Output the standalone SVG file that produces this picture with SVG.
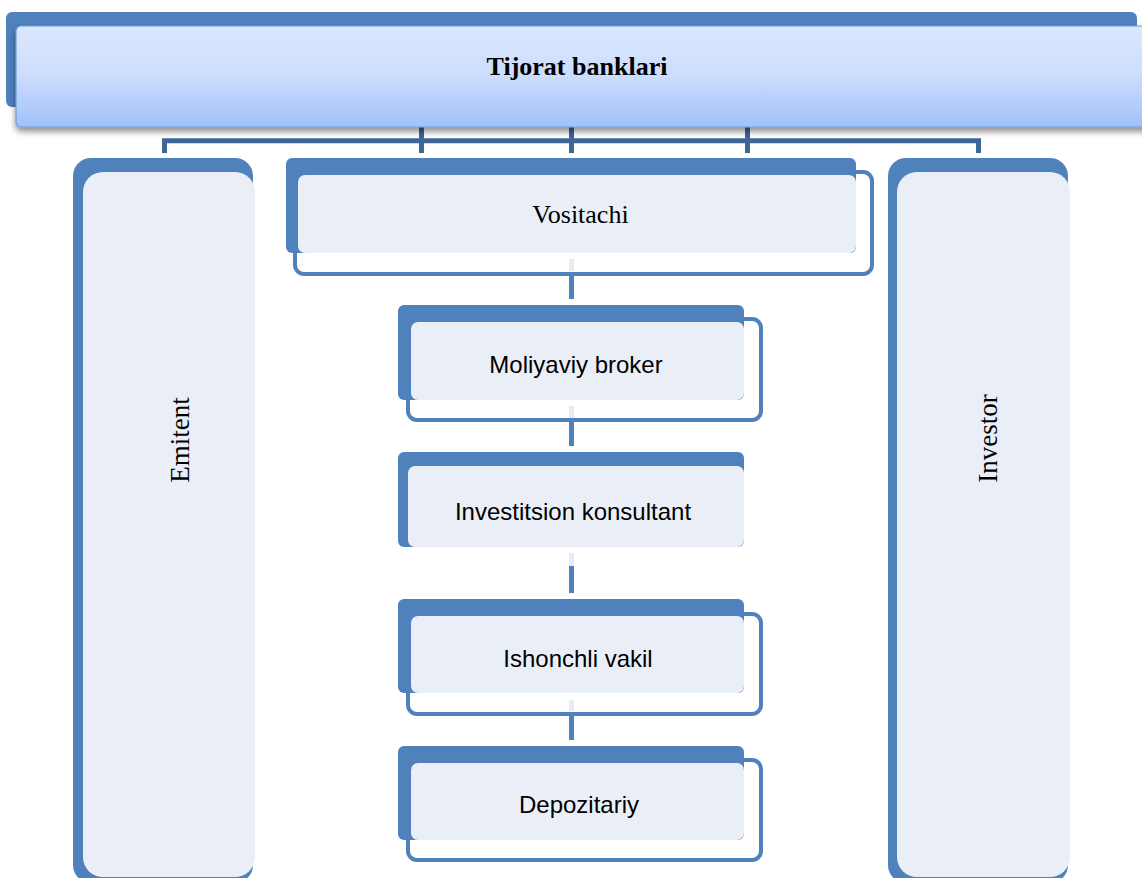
<svg xmlns="http://www.w3.org/2000/svg" width="1142" height="878" viewBox="0 0 1142 878">
  <style>
    .blue { fill: #4f81bd; }
    .light { fill: #eaeff7; }
    .outline { fill: #ffffff; stroke: #4f81bd; stroke-width: 4; }
    .conn { stroke: #3d6796; stroke-width: 5; fill: none; }
    .vconn { stroke: #4f81bd; stroke-width: 5; }
    .vconnl { stroke: #e6ebf4; stroke-width: 5; }
    .serif { font-family: "Liberation Serif", "Times New Roman", serif; fill: #000; }
    .sans { font-family: "Liberation Sans", Arial, sans-serif; font-size: 24px; fill: #000; }
  </style>
  <defs>
    <linearGradient id="hdr" x1="0" y1="0" x2="0" y2="1">
      <stop offset="0" stop-color="#dde8fe"/>
      <stop offset="0.5" stop-color="#cbdcfd"/>
      <stop offset="1" stop-color="#a2c1fa"/>
    </linearGradient>
    <filter id="shadow" x="-5%" y="-20%" width="110%" height="150%">
      <feDropShadow dx="0" dy="4" stdDeviation="3" flood-color="#000" flood-opacity="0.45"/>
    </filter>
  </defs>
  <rect width="1142" height="878" fill="#ffffff"/>

  <!-- connectors -->
  <g id="connectors">
    <path class="conn" d="M164.5,153 V140.8 H978.5 V153"/>
    <line class="conn" x1="421.5" y1="127" x2="421.5" y2="153"/>
    <line class="conn" x1="571.5" y1="127" x2="571.5" y2="153"/>
    <line class="conn" x1="747.5" y1="127" x2="747.5" y2="153"/>
  </g>

  <!-- header -->
  <g id="node-tijorat">
    <rect class="blue" x="6" y="12" width="1131" height="95" rx="6"/>
    <rect x="16" y="26" width="1140" height="101" rx="5" fill="url(#hdr)" stroke="#6b9bd8" stroke-width="1.2" filter="url(#shadow)"/>
    <text class="serif" x="577" y="75" font-size="26" font-weight="bold" text-anchor="middle">Tijorat banklari</text>
  </g>

  <!-- Emitent -->
  <g id="node-emitent">
    <rect class="blue" x="73" y="158" width="180" height="725" rx="18"/>
    <rect class="light" x="83" y="172" width="172" height="705" rx="20"/>
    <text class="serif" font-size="27" text-anchor="middle" transform="translate(189,440) rotate(-90)">Emitent</text>
  </g>

  <!-- Investor -->
  <g id="node-investor">
    <rect class="blue" x="888" y="158" width="180" height="725" rx="18"/>
    <rect class="light" x="897" y="172" width="173" height="705" rx="20"/>
    <text class="serif" font-size="27" text-anchor="middle" transform="translate(997,438.5) rotate(-90)">Investor</text>
  </g>

  <!-- Vositachi -->
  <g id="node-vositachi">
    <rect class="outline" x="295" y="172" width="577" height="102" rx="9"/>
    <rect class="blue" x="286" y="158" width="570" height="95" rx="6"/>
    <rect class="light" x="298" y="175" width="558" height="78" rx="7"/>
    <text class="serif" x="580.5" y="223" font-size="26" text-anchor="middle">Vositachi</text>
  </g>

  <!-- vertical chain connectors -->
  <g id="chain-connectors">
    <line class="vconnl" x1="571.5" y1="259" x2="571.5" y2="271"/>
    <line class="vconn" x1="571.5" y1="274" x2="571.5" y2="299"/>
    <line class="vconnl" x1="571.5" y1="406" x2="571.5" y2="420"/>
    <line class="vconn" x1="571.5" y1="422" x2="571.5" y2="446"/>
    <line class="vconnl" x1="571.5" y1="553" x2="571.5" y2="566"/>
    <line class="vconn" x1="571.5" y1="566" x2="571.5" y2="593"/>
    <line class="vconnl" x1="571.5" y1="700" x2="571.5" y2="710"/>
    <line class="vconn" x1="571.5" y1="713" x2="571.5" y2="740"/>
  </g>

  <!-- Moliyaviy broker -->
  <g id="node-broker">
    <rect class="outline" x="408" y="319" width="353" height="101" rx="9"/>
    <rect class="blue" x="398" y="305" width="346" height="95" rx="6"/>
    <rect class="light" x="411" y="322" width="333" height="78" rx="7"/>
    <line class="vconnl" x1="571.5" y1="406" x2="571.5" y2="418"/>
    <text class="sans" x="576" y="373" text-anchor="middle">Moliyaviy broker</text>
  </g>

  <!-- Investitsion konsultant -->
  <g id="node-konsultant">
    <rect class="blue" x="398" y="452" width="346" height="95" rx="6"/>
    <rect class="light" x="408" y="466" width="336" height="81" rx="7"/>
    <text class="sans" x="573" y="520" text-anchor="middle">Investitsion konsultant</text>
  </g>

  <!-- Ishonchli vakil -->
  <g id="node-vakil">
    <rect class="outline" x="408" y="614" width="353" height="100" rx="9"/>
    <rect class="blue" x="398" y="599" width="346" height="94" rx="6"/>
    <rect class="light" x="411" y="616" width="333" height="77" rx="7"/>
    <line class="vconnl" x1="571.5" y1="700" x2="571.5" y2="711"/>
    <text class="sans" x="578" y="667" text-anchor="middle">Ishonchli vakil</text>
  </g>

  <!-- Depozitariy -->
  <g id="node-depozitariy">
    <rect class="outline" x="408" y="760" width="353" height="100" rx="9"/>
    <rect class="blue" x="398" y="746" width="346" height="94" rx="6"/>
    <rect class="light" x="411" y="763" width="333" height="77" rx="7"/>
    <text class="sans" x="579" y="813" text-anchor="middle">Depozitariy</text>
  </g>
</svg>
